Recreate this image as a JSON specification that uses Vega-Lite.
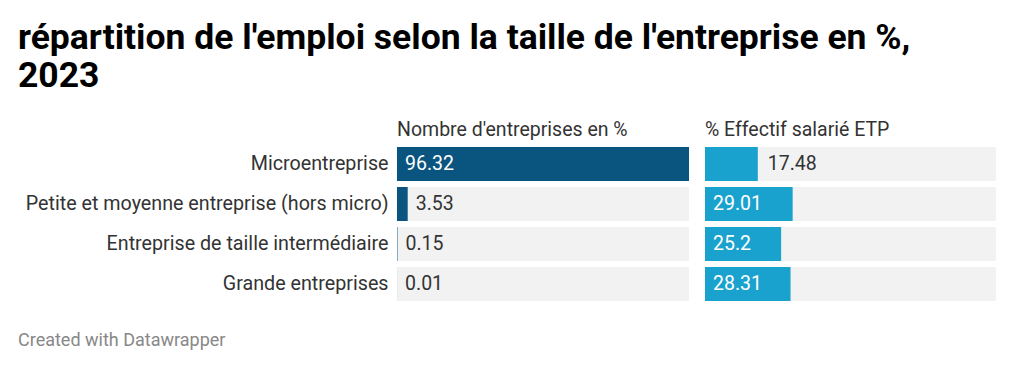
{
  "$schema": "https://vega.github.io/schema/vega-lite/v6.json",
  "background": "white",
  "padding": {"left": 18, "top": 21, "right": 10, "bottom": 10},
  "config": {"font": "Roboto", "view": {"stroke": null}, "concat": {"spacing": 16}},
  "title": {"text": ["répartition de l'emploi selon la taille de l'entreprise en %,", "2023"], "fontSize": 35.5, "fontWeight": "bold", "lineHeight": 38, "anchor": "start", "color": "#000000", "offset": 25, "frame": "bounds"},
  "data": {"values": [
    {"cat": "Microentreprise", "nb": 96.32, "eff": 17.48},
    {"cat": "Petite et moyenne entreprise (hors micro)", "nb": 3.53, "eff": 29.01},
    {"cat": "Entreprise de taille intermédiaire", "nb": 0.15, "eff": 25.2},
    {"cat": "Grande entreprises", "nb": 0.01, "eff": 28.31}
  ]},
  "vconcat": [{
    "title": {"text": "Created with Datawrapper", "orient": "bottom", "anchor": "start", "frame": "bounds", "fontSize": 18, "fontWeight": "normal", "color": "#888888", "offset": 31},
    "hconcat": [
      {
        "width": 292, "height": 154,
        "title": {"text": "Nombre d'entreprises en %", "anchor": "start", "frame": "group", "fontSize": 19.5, "fontWeight": "normal", "color": "#333333", "offset": 7},
        "encoding": {"y": {"field": "cat", "type": "nominal", "sort": null, "scale": {"paddingInner": 0.15, "paddingOuter": 0}, "axis": {"title": null, "domain": false, "ticks": false, "labelFontSize": 19.7, "labelColor": "#333333", "labelPadding": 9, "labelLimit": 500, "minExtent": 379}}},
        "layer": [
          {"mark": {"type": "bar", "color": "#f2f2f2"}, "encoding": {"x": {"value": 0}, "x2": {"value": "width"}}},
          {"mark": {"type": "bar", "color": "#0a5580"}, "encoding": {"x": {"field": "nb", "type": "quantitative", "scale": {"domain": [0, 96.32], "nice": false}, "axis": null}}},
          {"transform": [{"filter": "datum.nb > 20"}], "mark": {"type": "text", "align": "left", "dx": 8, "fontSize": 19.5, "color": "#ffffff"}, "encoding": {"x": {"datum": 0, "type": "quantitative"}, "text": {"field": "nb", "type": "nominal"}}},
          {"transform": [{"filter": "datum.nb <= 20"}], "mark": {"type": "text", "align": "left", "dx": 8, "fontSize": 19.5, "color": "#333333"}, "encoding": {"x": {"field": "nb", "type": "quantitative"}, "text": {"field": "nb", "type": "nominal"}}}
        ]
      },
      {
        "width": 291, "height": 154,
        "title": {"text": "% Effectif salarié ETP", "anchor": "start", "frame": "group", "fontSize": 19.5, "fontWeight": "normal", "color": "#333333", "offset": 7},
        "encoding": {"y": {"field": "cat", "type": "nominal", "sort": null, "scale": {"paddingInner": 0.15, "paddingOuter": 0}, "axis": null}},
        "layer": [
          {"mark": {"type": "bar", "color": "#f2f2f2"}, "encoding": {"x": {"value": 0}, "x2": {"value": "width"}}},
          {"mark": {"type": "bar", "color": "#1aa2cf"}, "encoding": {"x": {"field": "eff", "type": "quantitative", "scale": {"domain": [0, 96.32], "nice": false}, "axis": null}}},
          {"transform": [{"filter": "datum.eff > 20"}], "mark": {"type": "text", "align": "left", "dx": 8, "fontSize": 19.5, "color": "#ffffff"}, "encoding": {"x": {"datum": 0, "type": "quantitative"}, "text": {"field": "eff", "type": "nominal"}}},
          {"transform": [{"filter": "datum.eff <= 20"}], "mark": {"type": "text", "align": "left", "dx": 10, "fontSize": 19.5, "color": "#333333"}, "encoding": {"x": {"field": "eff", "type": "quantitative"}, "text": {"field": "eff", "type": "nominal"}}}
        ]
      }
    ]
  }]
}
